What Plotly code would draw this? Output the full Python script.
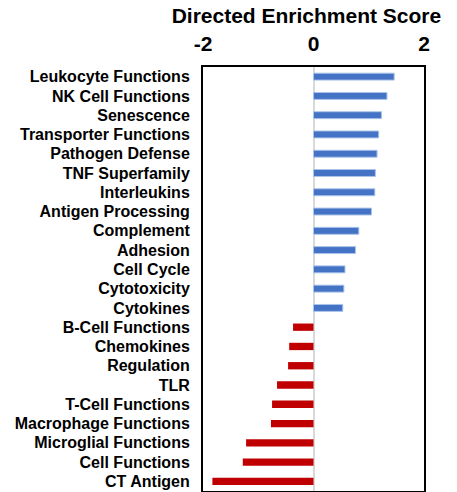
import plotly.graph_objects as go

categories = [
    "Leukocyte Functions", "NK Cell Functions", "Senescence", "Transporter Functions",
    "Pathogen Defense", "TNF Superfamily", "Interleukins", "Antigen Processing",
    "Complement", "Adhesion", "Cell Cycle", "Cytotoxicity", "Cytokines",
    "B-Cell Functions", "Chemokines", "Regulation", "TLR", "T-Cell Functions",
    "Macrophage Functions", "Microglial Functions", "Cell Functions", "CT Antigen",
]
scores = [
    1.46, 1.33, 1.23, 1.18, 1.15, 1.12, 1.11, 1.05, 0.82, 0.76, 0.57, 0.55, 0.53,
    -0.37, -0.44, -0.46, -0.66, -0.75, -0.77, -1.22, -1.28, -1.83,
]
tick_vals = [-2, 0, 2]
tick_text = ["-2", "0", "2"]

pos_cats = [c for c, s in zip(categories, scores) if s >= 0]
pos_vals = [s for s in scores if s >= 0]
neg_cats = [c for c, s in zip(categories, scores) if s < 0]
neg_vals = [s for s in scores if s < 0]

FONT = "Arial, Liberation Sans, sans-serif"

fig = go.Figure()
fig.add_trace(go.Bar(
    y=pos_cats, x=pos_vals, orientation="h", width=0.36,
    marker=dict(color="#4472C4", line=dict(color="#A9C4EB", width=1)),
))
fig.add_trace(go.Bar(
    y=neg_cats, x=neg_vals, orientation="h", width=0.38,
    marker=dict(color="#C00000", line=dict(width=0)),
))

fig.update_layout(
    width=457, height=492,
    margin=dict(l=203, r=33, t=67, b=1),
    paper_bgcolor="white", plot_bgcolor="white",
    showlegend=False,
    barmode="overlay",
    font=dict(family=FONT, color="black"),
    title=dict(
        text="<b>Directed Enrichment Score</b>",
        font=dict(family=FONT, size=21, color="black"),
        xref="paper", x=0.468, xanchor="center",
        yref="container", y=1 - 16 / 492, yanchor="middle",
    ),
    xaxis=dict(
        range=[-2, 2], side="top",
        tickvals=tick_vals, ticktext=["<b>%s</b>" % t for t in tick_text],
        tickfont=dict(family=FONT, size=21, color="black"),
        ticks="", ticklabelstandoff=6,
        showgrid=False,
        zeroline=True, zerolinecolor="#d9d9d9", zerolinewidth=2,
        showline=True, linecolor="black", linewidth=2, mirror=True,
        fixedrange=True, automargin=False,
    ),
    yaxis=dict(
        categoryorder="array", categoryarray=categories,
        autorange=False, range=[len(categories) - 0.5, -0.5],
        tickvals=categories, ticktext=["<b>%s</b>" % c for c in categories],
        tickfont=dict(family=FONT, size=16, color="black"),
        ticks="", ticklabelstandoff=8,
        showgrid=False, zeroline=False,
        showline=True, linecolor="black", linewidth=2, mirror=True,
        fixedrange=True, automargin=False,
    ),
)

fig.write_html(
    "out.html",
    config={"displayModeBar": False},
    post_script="document.body.style.margin='0';document.body.style.padding='0';",
)
